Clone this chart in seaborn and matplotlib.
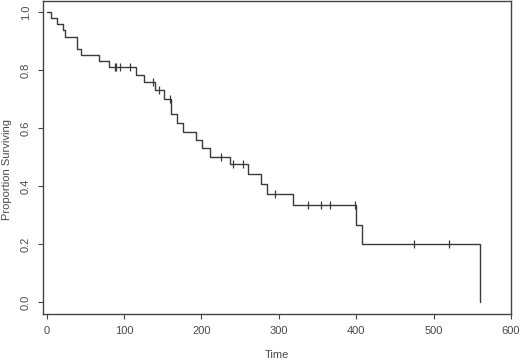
import numpy as np
import pandas as pd
import matplotlib
matplotlib.use("Agg")
import matplotlib.pyplot as plt
import seaborn as sns

# Kaplan-Meier step curve
step_times = [0, 6, 13, 20.5, 23.5, 39.5, 44, 67, 81, 115, 125.5, 140, 151.5,
              161, 169, 176.5, 193.5, 200.5, 210.5, 237, 260.5, 277, 284.5,
              318, 400, 407.5, 560]
step_surv = [1.0, 0.979, 0.957, 0.936, 0.915, 0.872, 0.851, 0.830, 0.809,
             0.783, 0.757, 0.730, 0.700, 0.648, 0.619, 0.588, 0.560, 0.531,
             0.502, 0.475, 0.441, 0.408, 0.374, 0.336, 0.267, 0.200, 0.0]

# censored observations (tick marks on the curve)
censor_times = [88, 90, 95, 108, 137, 144.5, 159.5, 225, 241, 253.5, 295,
                338, 355, 365.5, 398.5, 475, 519.5]
censor_surv = [0.809, 0.809, 0.809, 0.809, 0.757, 0.730, 0.700, 0.502, 0.475,
               0.475, 0.374, 0.336, 0.336, 0.336, 0.336, 0.200, 0.200]

x_ticks = [0, 100, 200, 300, 400, 500, 600]
y_ticks = [0.0, 0.2, 0.4, 0.6, 0.8, 1.0]

curve = pd.DataFrame({"Time": step_times, "Surv": step_surv})
cens = pd.DataFrame({"Time": censor_times, "Surv": censor_surv})

sns.set_theme(style="white")
plt.rcParams["font.family"] = ["Liberation Sans", "DejaVu Sans"]

ink = "#3a3a3a"
txt = "#4a4a4a"

fig = plt.figure(figsize=(5.2, 3.6), dpi=100)
ax = fig.add_axes([43.3 / 520, 1 - 314 / 360, (511 - 43.3) / 520, (314 - 0.5) / 360])

sns.lineplot(data=curve, x="Time", y="Surv", drawstyle="steps-post",
             estimator=None, sort=False, color=ink, linewidth=1.0, ax=ax)
sns.scatterplot(data=cens, x="Time", y="Surv", marker="|", s=30,
                color=ink, linewidth=0.9, ax=ax, zorder=3)

ax.set_xlim(-4.4, 600)
ax.set_ylim(-0.04, 1.039)
ax.set_xticks(x_ticks)
ax.set_xticklabels([str(v) for v in x_ticks])
ax.set_yticks(y_ticks)
ax.set_yticklabels([f"{v:.1f}" for v in y_ticks], rotation=90, va="center")

for s in ax.spines.values():
    s.set_color("#444444")
    s.set_linewidth(1.0)

ax.tick_params(axis="both", which="both", direction="out", length=3.8, width=0.8,
               color="#444444", labelcolor=txt, labelsize=8, pad=5,
               bottom=True, left=True)

ax.set_xlabel("Time", fontsize=8, color=txt)
ax.set_ylabel("Proportion Surviving", fontsize=8, color=txt, va="center")
ax.xaxis.set_label_coords(0.5, -(355 - 314) / 313.5)
ax.xaxis.label.set_va("center")
ax.yaxis.set_label_coords((6.7 - 43.3) / 467.7, (314 - 169) / 313.5)

fig.savefig("out.png", dpi=100)
